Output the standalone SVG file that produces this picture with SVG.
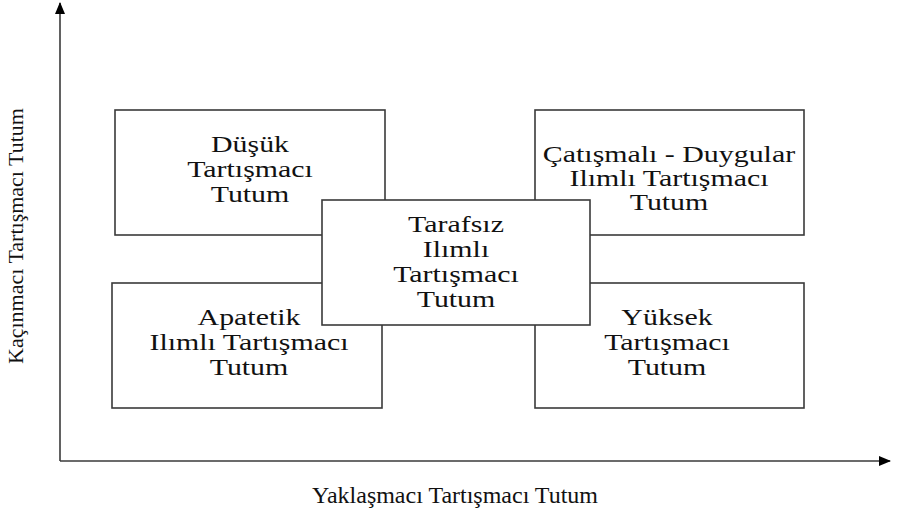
<svg xmlns="http://www.w3.org/2000/svg" width="900" height="521" viewBox="0 0 900 521">
<style>
.box{fill:#ffffff;stroke:#3a3a3a;stroke-width:1.6}
.axis{stroke:#3a3a3a;stroke-width:1.6;fill:none}
.t{font-family:"Liberation Serif","Times New Roman",serif;font-size:23px;fill:#111111;text-anchor:middle}
.lbl{font-family:"Liberation Serif","Times New Roman",serif;font-size:23px;fill:#111111;text-anchor:middle}
</style>
<defs>
<marker id="arr" viewBox="0 0 12 10" refX="11" refY="5" markerWidth="12" markerHeight="10" markerUnits="userSpaceOnUse" orient="auto">
<path d="M0,0 L12,5 L0,10 Z" fill="#000"/>
</marker>
</defs>
<g id="connectors">
<line class="axis" x1="60" y1="461" x2="60" y2="3" marker-end="url(#arr)"/>
<line class="axis" x1="60" y1="461" x2="890" y2="461" marker-end="url(#arr)"/>
</g>
<g id="axis-y-label">
<text class="lbl" transform="translate(23,236) rotate(-90)" style="font-size:22px">Kaçınmacı Tartışmacı Tutum</text>
</g>
<g id="axis-x-label">
<text class="lbl" x="455" y="503" textLength="286" lengthAdjust="spacingAndGlyphs">Yaklaşmacı Tartışmacı Tutum</text>
</g>
<g id="dusuk">
<rect class="box" x="115" y="110" width="270" height="125"/>
<g transform="translate(250,0) scale(1.3,1)">
<text class="t" x="0" y="152">Düşük</text>
<text class="t" x="0" y="177">Tartışmacı</text>
<text class="t" x="0" y="202">Tutum</text>
</g>
</g>
<g id="catismali">
<rect class="box" x="535" y="110" width="269" height="125"/>
<g transform="translate(669,0) scale(1.3,1)">
<text class="t" x="0" y="162">Çatışmalı - Duygular</text>
<text class="t" x="0" y="186">Ilımlı Tartışmacı</text>
<text class="t" x="0" y="210">Tutum</text>
</g>
</g>
<g id="apatetik">
<rect class="box" x="112" y="283" width="270" height="125"/>
<g transform="translate(249,0) scale(1.3,1)">
<text class="t" x="0" y="325">Apatetik</text>
<text class="t" x="0" y="350">Ilımlı Tartışmacı</text>
<text class="t" x="0" y="375">Tutum</text>
</g>
</g>
<g id="yuksek">
<rect class="box" x="535" y="283" width="269" height="125"/>
<g transform="translate(667,0) scale(1.3,1)">
<text class="t" x="0" y="325">Yüksek</text>
<text class="t" x="0" y="350">Tartışmacı</text>
<text class="t" x="0" y="375">Tutum</text>
</g>
</g>
<g id="tarafsiz">
<rect class="box" x="322" y="200" width="268" height="125"/>
<g transform="translate(456,0) scale(1.3,1)">
<text class="t" x="0" y="232">Tarafsız</text>
<text class="t" x="0" y="257">Ilımlı</text>
<text class="t" x="0" y="282">Tartışmacı</text>
<text class="t" x="0" y="307">Tutum</text>
</g>
</g>
</svg>
